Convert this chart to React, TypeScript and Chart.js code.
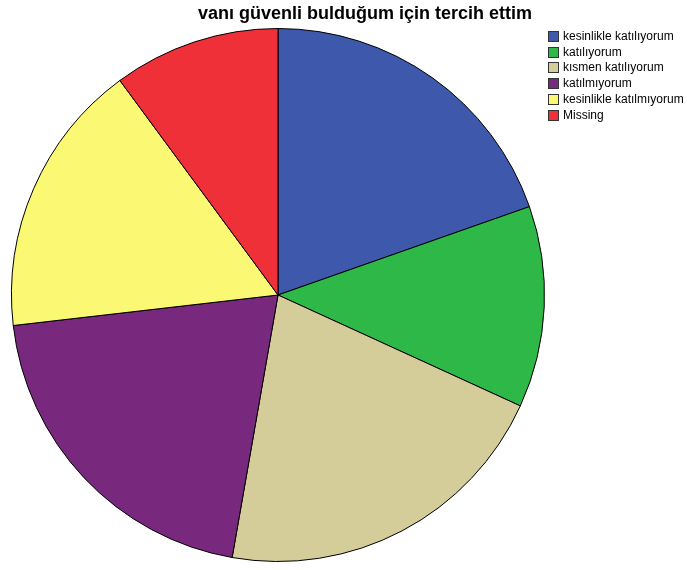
import React, { useEffect, useRef } from "react";
import { Chart, registerables } from "chart.js";

Chart.register(...registerables);

const titleText = "vanı güvenli bulduğum için tercih ettim";
const categories = [
  "kesinlikle katılıyorum",
  "katılıyorum",
  "kısmen katılıyorum",
  "katılmıyorum",
  "kesinlikle katılmıyorum",
  "Missing",
];
const values = [19.6, 12.2, 20.9, 20.4, 16.7, 10.1];
const colors = ["#3e58ac", "#2eb848", "#d4cc99", "#78287d", "#fbf873", "#ef3038"];

const overlayPlugin = {
  id: "overlay",
  afterDraw(chart: any) {
    const ctx = chart.ctx;
    ctx.save();
    ctx.fillStyle = "#000";
    ctx.font = "bold 18px 'Liberation Sans', Arial, sans-serif";
    ctx.textAlign = "center";
    ctx.textBaseline = "alphabetic";
    ctx.fillText(titleText, 365, 19);
    ctx.font = "12px 'Liberation Sans', Arial, sans-serif";
    ctx.textAlign = "left";
    ctx.textBaseline = "middle";
    categories.forEach((c, i) => {
      const y = Math.round(36 + i * 15.7);
      ctx.fillStyle = colors[i];
      ctx.fillRect(548.5, y - 4.5, 10, 10);
      ctx.strokeStyle = "#333";
      ctx.lineWidth = 1;
      ctx.strokeRect(548.5, y - 4.5, 10, 10);
      ctx.fillStyle = "#000";
      ctx.fillText(c, 563, y + 1);
    });
    ctx.restore();
  },
};

export default function App() {
  const ref = useRef<HTMLCanvasElement>(null);
  useEffect(() => {
    if (!ref.current) return;
    const chart = new Chart(ref.current, {
      type: "pie",
      data: {
        labels: categories,
        datasets: [
          {
            data: values,
            backgroundColor: colors,
            borderColor: "#000",
            borderWidth: 1,
          },
        ],
      },
      options: {
        animation: false,
        responsive: false,
        layout: { padding: { left: 11, right: 142, top: 28, bottom: 8 } },
        plugins: {
          legend: { display: false },
          title: { display: false },
          tooltip: { enabled: false },
        },
      },
      plugins: [overlayPlugin],
    });
    return () => chart.destroy();
  }, []);
  return (
    <div style={{ position: "fixed", left: 0, top: 0, width: 687, height: 570, background: "#fff" }}>
      <canvas ref={ref} width={687} height={570} />
    </div>
  );
}
